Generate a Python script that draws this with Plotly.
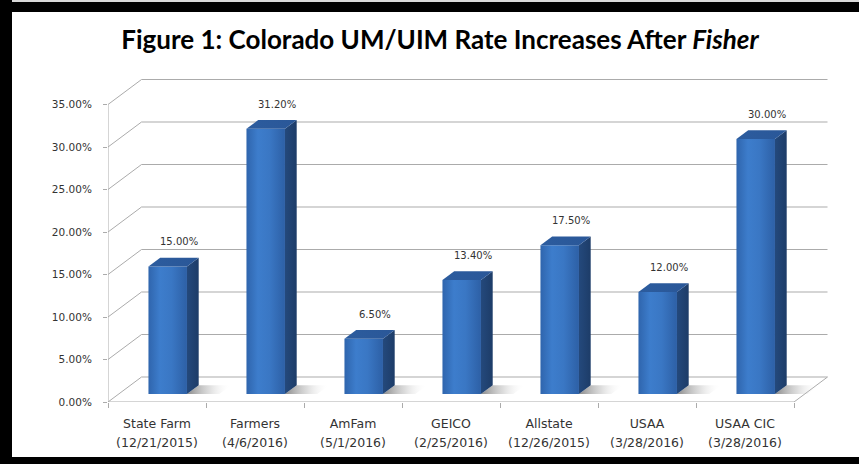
import plotly.graph_objects as go

# ---- data ----
names = ["State Farm", "Farmers", "AmFam", "GEICO", "Allstate", "USAA", "USAA CIC"]
dates = ["(12/21/2015)", "(4/6/2016)", "(5/1/2016)", "(2/25/2016)",
         "(12/26/2015)", "(3/28/2016)", "(3/28/2016)"]
values = [15.0, 31.2, 6.5, 13.4, 17.5, 12.0, 30.0]
yticks = [0, 5, 10, 15, 20, 25, 30, 35]
ytick_text = ["%.2f%%" % t for t in yticks]

# ---- geometry (pixel-based pseudo-3D projection) ----
W, H = 859, 464
ML, MR, MT, MB = 108, 24, 70, 62
PW, PH = W - ML - MR, H - MT - MB
PX_PER_CAT = 98.0
PX_PER_PCT = 8.5
XMAX = PW / PX_PER_CAT
YMAX = PH / PX_PER_PCT
DX = 33.5 / PX_PER_CAT      # depth vector in data units
DY = 25.0 / PX_PER_PCT
F0, F1 = 0.32, 0.67         # bar depth span (fraction of depth)
BW = 0.393                  # bar width (category units)
N = len(names)
centers = [i + 0.5 for i in range(N)]

fig = go.Figure()
grid = dict(color="#ababab", width=1)


def seg(xs, ys):
    fig.add_trace(go.Scatter(x=xs, y=ys, mode="lines", line=grid,
                             hoverinfo="skip", showlegend=False))


# back wall gridlines with diagonal connectors
for t in yticks:
    seg([0, DX, N + DX], [t, t + DY, t + DY])
seg([0, 0], [0, max(yticks)])            # front vertical axis
seg([0, N, N + DX], [0, 0, DY])          # front floor edge + right edge


def poly(xs, ys, colorscale, kind="horizontal"):
    fig.add_trace(go.Scatter(
        x=xs + [xs[0]], y=ys + [ys[0]], mode="lines", fill="toself",
        line=dict(width=0, color="rgba(0,0,0,0)"),
        fillgradient=dict(type=kind, colorscale=colorscale),
        hoverinfo="skip", showlegend=False))


dd = F1 - F0
for c, v in zip(centers, values):
    xl = c - BW / 2 + F0 * DX
    xr = c + BW / 2 + F0 * DX
    yb = F0 * DY
    yt = v + F0 * DY
    # floor shadow
    S = 0.33
    poly([xr, xr + S, xr + S + dd * DX, xr + dd * DX],
         [yb, yb, yb + dd * DY, yb + dd * DY],
         [[0, "rgba(60,60,60,0.6)"], [0.5, "rgba(140,140,140,0.3)"],
          [1, "rgba(255,255,255,0)"]])
    # front face
    poly([xl, xr, xr, xl], [yb, yb, yt, yt],
         [[0, "#2f65ad"], [0.3, "#3d7dcc"], [0.6, "#3a77c4"], [1, "#2d60a6"]])
    # side face
    poly([xr, xr + dd * DX, xr + dd * DX, xr],
         [yb, yb + dd * DY, yt + dd * DY, yt],
         [[0, "#24497c"], [1, "#1d3c68"]])
    # top face
    poly([xl, xr, xr + dd * DX, xl + dd * DX],
         [yt, yt, yt + dd * DY, yt + dd * DY],
         [[0, "#2c5c9e"], [1, "#2a5798"]])

# value labels
for c, v in zip(centers, values):
    fig.add_annotation(x=c + F1 * DX, y=v + F1 * DY, text="%.2f%%" % v,
                       showarrow=False, yshift=16, yanchor="middle",
                       font=dict(family="DejaVu Sans", size=10, color="#333333"))

# invisible trace for the secondary (date) axis
fig.add_trace(go.Scatter(x=centers, y=[0] * N, xaxis="x2", mode="markers",
                         marker=dict(opacity=0), hoverinfo="skip",
                         showlegend=False))


def px2paper(px, py):
    return (px - ML) / PW, (H - MB - py) / PH


shapes = []
for (x0, y0, x1, y1, col) in [(0, 0, 859, 2, "#d9d9d9"), (0, 2, 859, 12, "black"),
                              (0, 0, 12, 464, "black"), (0, 457, 859, 464, "black")]:
    a, b = px2paper(x0, y1)
    c2, d = px2paper(x1, y0)
    shapes.append(dict(type="rect", xref="paper", yref="paper", x0=a, y0=b,
                       x1=c2, y1=d, fillcolor=col, line=dict(width=0),
                       layer="above"))

tickfont = dict(family="DejaVu Sans", size=12.5, color="#333333")
fig.update_layout(
    width=W, height=H,
    margin=dict(l=ML, r=MR, t=MT, b=MB),
    paper_bgcolor="white", plot_bgcolor="white",
    shapes=shapes,
    title=dict(text="<b>Figure 1: Colorado UM/UIM Rate Increases After <i>Fisher</i></b>",
               x=440 / W, xanchor="center", y=1 - 40 / H, yanchor="middle",
               font=dict(family="Lato", size=26, color="black")),
    xaxis=dict(range=[0, XMAX], showgrid=False, zeroline=False, showline=False,
               tickmode="array", tickvals=centers, ticktext=names, ticks="",
               ticklabelstandoff=12, tickfont=tickfont,
               minor=dict(tickvals=list(range(N + 1)), ticks="outside",
                          ticklen=5, tickcolor="#ababab", showgrid=False)),
    xaxis2=dict(range=[0, XMAX], overlaying="x", anchor="y", side="bottom",
                showgrid=False, zeroline=False, showline=False,
                tickmode="array", tickvals=centers, ticktext=dates, ticks="",
                ticklabelstandoff=31, tickfont=tickfont),
    yaxis=dict(range=[0, YMAX], showgrid=False, zeroline=False, showline=False,
               tickmode="array", tickvals=yticks, ticktext=ytick_text,
               ticks="outside", ticklen=4, tickcolor="#ababab",
               ticklabelstandoff=9,
               tickfont=dict(family="DejaVu Sans", size=10.5, color="#333333")),
)

fig.write_html("out.html",
               config={"displayModeBar": False, "staticPlot": True},
               post_script="document.body.style.margin='0';"
                           "document.body.style.overflow='hidden';")
